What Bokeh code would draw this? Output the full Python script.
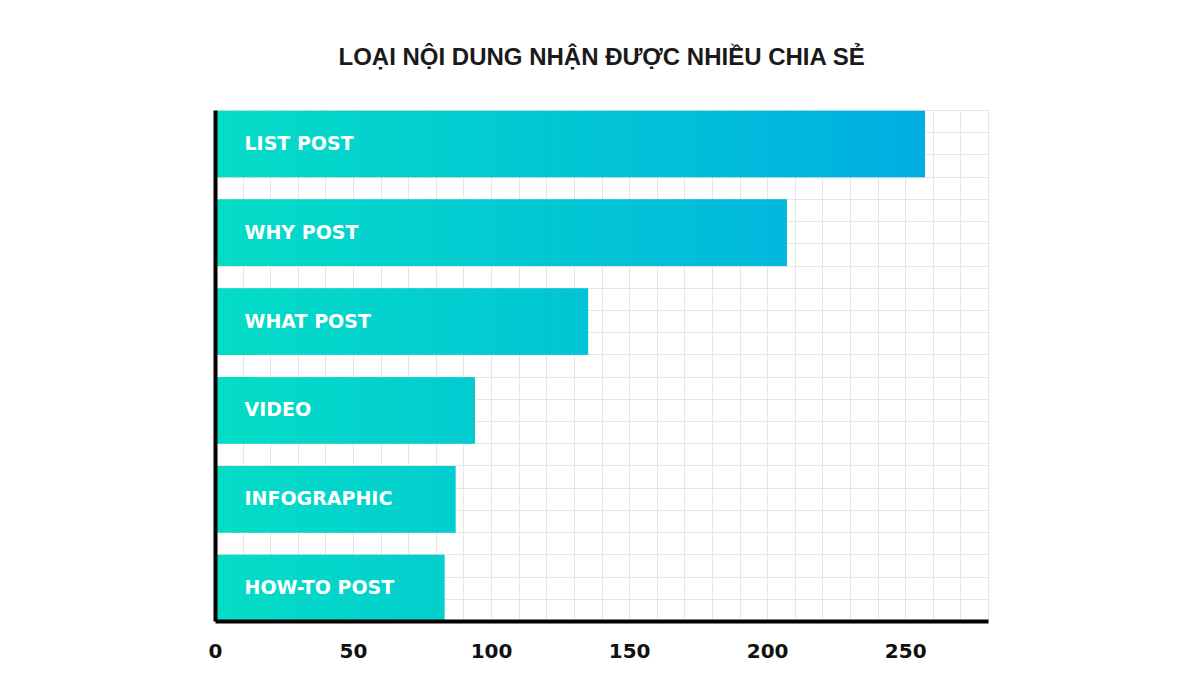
import numpy as np
from bokeh.plotting import figure
from bokeh.models import ColumnDataSource, Range1d, FixedTicker
from bokeh.core.properties import value
from bokeh.embed import file_html
from bokeh.resources import INLINE

# ---- data ----
title_text = "LOẠI NỘI DUNG NHẬN ĐƯỢC NHIỀU CHIA SẺ"
categories = ["LIST POST", "WHY POST", "WHAT POST", "VIDEO", "INFOGRAPHIC", "HOW-TO POST"]
shares = [257, 207, 135, 94, 87, 83]
x_ticks = [0, 50, 100, 150, 200, 250]
x_max = 280
grid_step = 10

# ---- style ----
start_rgb = (4, 221, 198)
end_rgb = (0, 174, 227)
grad_span = 260.0
bar_frac = 0.75
slice_step = 2.0

n = len(categories)
bottoms = [n - 1 - i for i in range(n)]

def grad_color(x):
    t = min(max(x / grad_span, 0.0), 1.0)
    r = round(start_rgb[0] + (end_rgb[0] - start_rgb[0]) * t)
    g = round(start_rgb[1] + (end_rgb[1] - start_rgb[1]) * t)
    b = round(start_rgb[2] + (end_rgb[2] - start_rgb[2]) * t)
    return "#%02x%02x%02x" % (r, g, b)

lefts, rights, tops, bots, colors = [], [], [], [], []
for b, v in zip(bottoms, shares):
    edges = np.arange(0, v, slice_step)
    for e in edges:
        lefts.append(float(e))
        rights.append(float(min(e + slice_step + 0.4, v)))
        bots.append(b)
        tops.append(b + bar_frac)
        colors.append(grad_color(e + slice_step / 2))

slices = ColumnDataSource(dict(left=lefts, right=rights, top=tops, bottom=bots, color=colors))
labels = ColumnDataSource(dict(x=[0] * n, y=[b + bar_frac / 2 for b in bottoms], text=categories))

p = figure(width=1184, height=678, output_backend="svg", toolbar_location=None,
           x_range=Range1d(0, x_max), y_range=Range1d(0, n - 1 + bar_frac),
           min_border_left=215, min_border_right=196, min_border_top=110, min_border_bottom=57)

p.quad(left="left", right="right", top="top", bottom="bottom", source=slices,
       fill_color="color", line_color=None)

p.text(x="x", y="y", text="text", source=labels, x_offset=29, y_offset=-1,
       text_font=value("DejaVu Sans"), text_font_style="bold", text_font_size="19px",
       text_color="white", text_baseline="middle", text_align="left")

# title
p.title.text = title_text
p.title.align = "center"
p.title.text_font = "Liberation Sans"
p.title.text_font_style = "bold"
p.title.text_font_size = "24px"
p.title.text_color = "#1a1a1a"
p.title.standoff = 81

# grid
p.xgrid.ticker = FixedTicker(ticks=list(range(0, x_max + 1, grid_step)))
p.ygrid.ticker = FixedTicker(ticks=list(np.arange(0, n - 1 + bar_frac + 0.01, 0.25)))
p.grid.grid_line_color = "#e6e6e6"
p.grid.grid_line_width = 1
p.outline_line_color = "#e6e6e6"
p.background_fill_color = "white"
p.border_fill_color = "white"

# axes
p.xaxis.ticker = FixedTicker(ticks=x_ticks)
p.xaxis.axis_line_width = 4
p.xaxis.axis_line_color = "black"
p.xaxis.major_tick_line_color = None
p.xaxis.minor_tick_line_color = None
p.xaxis.major_label_text_font = "DejaVu Sans"
p.xaxis.major_label_text_font_style = "bold"
p.xaxis.major_label_text_font_size = "20px"
p.xaxis.major_label_text_color = "#111111"
p.xaxis.major_label_standoff = 16

p.yaxis.axis_line_width = 4
p.yaxis.axis_line_color = "black"
p.yaxis.major_tick_line_color = None
p.yaxis.minor_tick_line_color = None
p.yaxis.major_label_text_font_size = "0px"
p.yaxis.ticker = FixedTicker(ticks=[])

open("out.html", "w").write(file_html(p, INLINE))
